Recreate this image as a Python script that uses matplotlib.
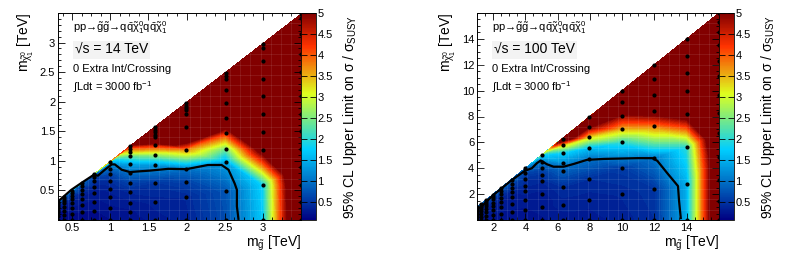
import matplotlib
matplotlib.use("Agg")
import matplotlib.pyplot as plt
import numpy as np
from matplotlib.colors import LinearSegmentedColormap, Normalize
from matplotlib.ticker import AutoMinorLocator, FixedLocator, FuncFormatter

plt.rcParams["font.family"] = ["Liberation Sans", "DejaVu Sans"]
plt.rcParams["mathtext.fontset"] = "custom"
plt.rcParams["mathtext.rm"] = "Liberation Sans"
plt.rcParams["mathtext.it"] = "Liberation Sans"
plt.rcParams["mathtext.bf"] = "Liberation Sans:bold"

# ---------------- 14 TeV grid (gluino mass columns, LSP masses, limit) ----------------
mg_14 = [0.316, 0.398, 0.501, 0.631, 0.794, 1.0, 1.259, 1.585, 1.995, 2.512, 3.0, 3.5]
mlsp_14 = [
    [0.0, 0.06, 0.13, 0.17, 0.22, 0.25, 0.28, 0.31],
    [0.0, 0.08, 0.16, 0.22, 0.28, 0.32, 0.35, 0.39],
    [0.0, 0.10, 0.20, 0.28, 0.35, 0.40, 0.45, 0.49],
    [0.0, 0.13, 0.25, 0.35, 0.44, 0.50, 0.57, 0.62],
    [0.0, 0.16, 0.31, 0.46, 0.56, 0.66, 0.73, 0.78],
    [0.0, 0.20, 0.39, 0.53, 0.66, 0.77, 0.87, 0.98],
    [0.0, 0.14, 0.28, 0.47, 0.63, 0.79, 0.95, 1.09, 1.15, 1.20, 1.25],
    [0.0, 0.31, 0.62, 0.93, 1.10, 1.27, 1.40, 1.44, 1.49, 1.53, 1.57],
    [0.0, 0.39, 0.64, 0.86, 1.19, 1.57, 1.80, 1.86, 1.90, 1.93, 1.97],
    [0.0, 0.49, 0.98, 1.20, 1.47, 1.72, 1.97, 2.20, 2.38, 2.43, 2.48],
    [0.0, 0.60, 1.19, 1.49, 1.79, 2.10, 2.39, 2.69, 2.90, 2.97],
    [0.0, 0.30, 0.60, 0.90, 1.20, 1.50, 1.80, 2.10, 2.50, 2.80, 3.14, 3.42, 3.48],
]
lim_14 = [
    [0.20, 0.20, 0.20, 0.25, 0.30, 0.40, 0.55, 0.80],
    [0.20, 0.20, 0.20, 0.25, 0.30, 0.40, 0.55, 0.80],
    [0.20, 0.20, 0.25, 0.30, 0.35, 0.45, 0.55, 0.85],
    [0.20, 0.20, 0.25, 0.30, 0.35, 0.45, 0.55, 0.85],
    [0.20, 0.20, 0.25, 0.30, 0.35, 0.45, 0.60, 0.90],
    [0.20, 0.25, 0.30, 0.35, 0.45, 0.60, 0.90, 1.50],
    [0.20, 0.25, 0.30, 0.40, 0.60, 0.95, 1.40, 2.40, 3.20, 3.80, 4.60],
    [0.30, 0.35, 0.50, 1.30, 2.60, 4.50, 7.0, 8.0, 8.0, 8.0, 8.0],
    [0.35, 0.40, 0.60, 1.00, 3.70, 8.0, 8.0, 8.0, 8.0, 8.0, 8.0],
    [0.70, 0.75, 1.40, 2.40, 4.30, 6.5, 8.0, 8.0, 8.0, 8.0, 8.0],
    [1.70, 1.80, 5.50, 8.0, 8.0, 8.0, 8.0, 8.0, 8.0, 8.0],
    [6.9, 6.9, 7.0, 7.5, 8.0, 8.0, 8.0, 8.0, 8.0, 8.0, 8.0, 8.0, 8.0],
]
# observed 95% CL contour (limit = 1)
cont_x_14 = [0.34, 0.49, 0.65, 0.78, 0.84, 0.93, 1.02, 1.06, 1.15, 1.26, 1.35, 1.52,
             1.76, 2.0, 2.28, 2.46, 2.55, 2.63, 2.66, 2.66, 2.68]
cont_y_14 = [0.34, 0.51, 0.65, 0.76, 0.75, 0.85, 0.94, 0.94, 0.85, 0.81, 0.82, 0.835,
             0.865, 0.86, 0.93, 0.93, 0.85, 0.62, 0.51, 0.23, 0.02]

# ---------------- 100 TeV grid ----------------
mg_100 = [1.0, 1.259, 1.585, 1.995, 2.512, 3.162, 3.981, 5.012, 6.31, 7.943, 10.0, 12.0, 14.0, 16.0]
mlsp_100 = [
    [0.0, 0.20, 0.40, 0.55, 0.70, 0.80, 0.90, 0.98],
    [0.0, 0.25, 0.50, 0.70, 0.85, 1.00, 1.12, 1.23],
    [0.0, 0.30, 0.60, 0.85, 1.05, 1.25, 1.40, 1.55],
    [0.0, 0.40, 0.80, 1.10, 1.35, 1.60, 1.80, 1.95],
    [0.0, 0.50, 1.00, 1.40, 1.70, 2.00, 2.25, 2.45],
    [0.0, 0.60, 1.25, 1.75, 2.15, 2.50, 2.80, 3.10],
    [0.0, 0.75, 1.53, 2.24, 2.65, 3.14, 3.61, 4.00],
    [0.0, 1.00, 2.00, 3.00, 3.50, 4.00, 4.50, 5.00],
    [0.0, 1.14, 2.52, 3.79, 4.39, 5.20, 5.76, 6.28],
    [0.0, 1.53, 3.14, 4.70, 5.56, 6.38, 7.16, 7.94],
    [0.0, 1.99, 4.00, 6.00, 7.05, 8.04, 9.13, 9.98],
    [0.0, 2.36, 4.80, 7.25, 8.45, 9.70, 10.9, 12.0],
    [0.0, 2.80, 5.65, 8.16, 10.0, 11.4, 12.7, 14.0],
    [0.0, 1.5, 3.1, 4.9, 6.7, 8.3, 9.7, 11.1, 12.3, 13.5, 14.5, 15.3, 16.0],
]
lim_100 = [
    [0.25, 0.25, 0.30, 0.30, 0.35, 0.45, 0.60, 0.85],
    [0.25, 0.25, 0.30, 0.30, 0.35, 0.45, 0.60, 0.85],
    [0.25, 0.25, 0.30, 0.30, 0.35, 0.45, 0.60, 0.85],
    [0.25, 0.25, 0.30, 0.30, 0.35, 0.45, 0.60, 0.85],
    [0.25, 0.25, 0.30, 0.30, 0.35, 0.45, 0.60, 0.85],
    [0.25, 0.25, 0.30, 0.30, 0.35, 0.45, 0.60, 0.85],
    [0.25, 0.25, 0.30, 0.35, 0.40, 0.45, 0.60, 0.95],
    [0.25, 0.30, 0.30, 0.40, 0.50, 0.70, 1.05, 1.70],
    [0.30, 0.35, 0.45, 0.85, 1.20, 1.80, 3.20, 6.0],
    [0.30, 0.35, 0.45, 1.00, 1.60, 3.20, 5.00, 7.0],
    [0.35, 0.40, 0.55, 2.00, 3.50, 4.80, 8.0, 8.0],
    [0.45, 0.50, 1.05, 3.80, 5.50, 8.0, 8.0, 8.0],
    [1.50, 1.50, 2.00, 5.50, 8.0, 8.0, 8.0, 8.0],
    [6.4, 6.4, 6.4, 6.4, 7.0, 8.0, 8.0, 8.0, 8.0, 8.0, 8.0, 8.0, 8.0],
]
cont_x_100 = [1.2, 2.0, 3.16, 3.98, 4.4, 4.71, 4.95, 5.33, 5.74, 6.37, 6.99, 7.82,
              8.85, 10.93, 11.87, 12.18, 12.8, 13.46, 13.52, 13.63]
cont_y_100 = [0.95, 1.92, 3.09, 3.81, 4.0, 4.39, 4.6, 4.31, 4.12, 4.12, 4.33, 4.65,
              4.72, 4.78, 4.78, 4.57, 3.61, 2.62, 1.53, 0.15]

cbar_ticks = [0.5, 1, 1.5, 2, 2.5, 3, 3.5, 4, 4.5, 5]

# ROOT-style rainbow palette
stops = [0.00, 0.34, 0.61, 0.84, 1.00]
reds = [0.00, 0.00, 0.87, 1.00, 0.51]
greens = [0.00, 0.81, 1.00, 0.20, 0.00]
blues = [0.51, 1.00, 0.12, 0.00, 0.00]
cmap = LinearSegmentedColormap("rootpal", {
    "red": [(s, c, c) for s, c in zip(stops, reds)],
    "green": [(s, c, c) for s, c in zip(stops, greens)],
    "blue": [(s, c, c) for s, c in zip(stops, blues)],
}, N=256)
zmin, zmax = 0.08, 5.0

W, H = 785, 263
fig = plt.figure(figsize=(W / 100, H / 100), dpi=100)


def g_fmt(v, p):
    return f"{v:g}"


def panel(ax_px, cb_px, mg, mlsp, lim, cx, cy, xlim, ylim, xt, yt, xminor, yminor, energy):
    ax = fig.add_axes([ax_px[0] / W, 43 / H, ax_px[1] / W, 207 / H])
    cax = fig.add_axes([cb_px[0] / W, 43 / H, cb_px[1] / W, 207 / H])
    norm = Normalize(zmin, zmax)

    x = np.concatenate([[g] * len(m) for g, m in zip(mg, mlsp)])
    y = np.concatenate(mlsp)
    z = np.concatenate(lim)

    ax.tricontourf(x, y, z, levels=np.linspace(zmin, zmax, 80), cmap=cmap,
                   norm=norm, extend="both", antialiased=False)

    # faint bin grid like the ROOT COLZ rendering
    for gx in np.linspace(xlim[0], xlim[1], 25)[1:-1]:
        ax.axvline(gx, color="white", lw=0.5, alpha=0.12, zorder=2)
    for gy in np.linspace(ylim[0], ylim[1], 21)[1:-1]:
        ax.axhline(gy, color="white", lw=0.5, alpha=0.12, zorder=2)

    ax.plot(x, y, "o", color="black", ms=3.0, mew=0, zorder=4)
    ax.plot(cx, cy, color="black", lw=1.6, zorder=5)

    ax.set_xlim(*xlim)
    ax.set_ylim(*ylim)
    ax.xaxis.set_major_locator(FixedLocator(xt))
    ax.yaxis.set_major_locator(FixedLocator(yt))
    ax.xaxis.set_major_formatter(FuncFormatter(g_fmt))
    ax.yaxis.set_major_formatter(FuncFormatter(g_fmt))
    ax.xaxis.set_minor_locator(AutoMinorLocator(xminor))
    ax.yaxis.set_minor_locator(AutoMinorLocator(yminor))
    ax.tick_params(which="both", direction="in", top=True, right=True,
                   labelsize=8, pad=2)
    ax.tick_params(which="major", length=5, width=0.6)
    ax.tick_params(which="minor", length=2.5, width=0.6)
    for s in ax.spines.values():
        s.set_linewidth(0.7)

    ax.set_xlabel(r"m$_{\tilde{g}}$ [TeV]", loc="right", fontsize=10, labelpad=1)
    ax.set_ylabel(r"m$_{\tilde{\chi}^{0}_{1}}$ [TeV]", loc="top", fontsize=10, labelpad=3)

    t = ax.transAxes
    ax.text(0.062, 0.928,
            "pp\u2192" + r"$\tilde{g}\tilde{g}$" + "\u2192"
            + r"$q\bar{q}\tilde{\chi}^{0}_{1}q\bar{q}\tilde{\chi}^{0}_{1}$",
            transform=t, fontsize=8, va="center", ha="left")
    ax.text(0.07, 0.822, "\u221as = %s TeV" % energy, transform=t, fontsize=10,
            va="center", ha="left",
            bbox=dict(boxstyle="square,pad=0.15", fc="#f3f3f3", ec="none"))
    ax.text(0.062, 0.729, "0 Extra Int/Crossing", transform=t, fontsize=8,
            va="center", ha="left")
    ax.text(0.062, 0.642, r"$\int$Ldt = 3000 fb$^{-1}$", transform=t, fontsize=8,
            va="center", ha="left")

    cb = fig.colorbar(plt.cm.ScalarMappable(norm=norm, cmap=cmap), cax=cax)
    cb.set_ticks(cbar_ticks)
    cax.yaxis.set_major_formatter(FuncFormatter(g_fmt))
    cb.outline.set_linewidth(0.6)
    cax.tick_params(direction="in", length=4, width=0.6, labelsize=8, pad=1,
                    left=True)
    cb.set_label(r"95% CL Upper Limit on $\sigma$ / $\sigma_{\mathrm{SUSY}}$",
                 fontsize=10, labelpad=6)
    return ax


panel((58, 243), (301, 15), mg_14, mlsp_14, lim_14, cont_x_14, cont_y_14,
      (0.316, 3.5), (0.0, 3.5), [0.5, 1, 1.5, 2, 2.5, 3], [0.5, 1, 1.5, 2, 2.5, 3],
      4, 5, "14")
panel((477, 242), (719, 15), mg_100, mlsp_100, lim_100, cont_x_100, cont_y_100,
      (1.0, 16.0), (0.0, 16.0), [2, 4, 6, 8, 10, 12, 14], [2, 4, 6, 8, 10, 12, 14],
      4, 4, "100")

fig.savefig("out.png", dpi=100)
